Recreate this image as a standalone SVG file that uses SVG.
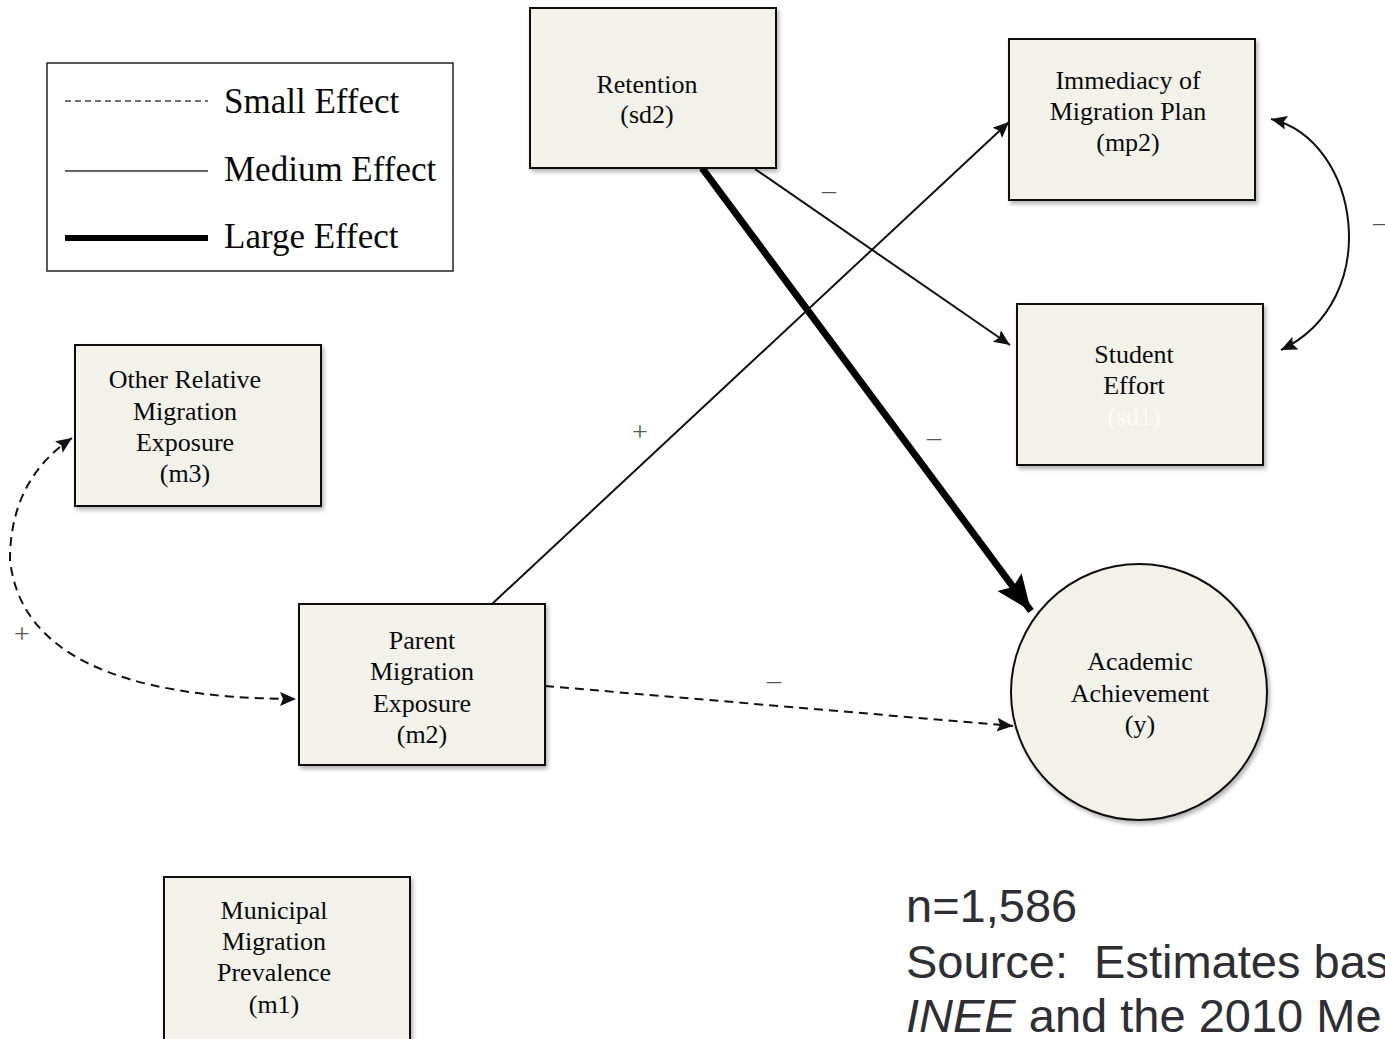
<svg xmlns="http://www.w3.org/2000/svg" width="1385" height="1039" viewBox="0 0 1385 1039">
<style>
.box{fill:#f2f1ea;stroke:#111;stroke-width:2;filter:url(#sh)}
.nt{font-family:"Liberation Serif",serif;font-size:26px;fill:#0a0a0a;text-anchor:middle}
.lg{font-family:"Liberation Serif",serif;font-size:35px;fill:#0a0a0a}
.lab{font-family:"Liberation Serif",serif;font-size:28px;fill:#555;text-anchor:middle}
.ft{font-family:"Liberation Sans",Arial,sans-serif;font-size:47px;fill:#2e2e33}
.c{fill:none;stroke:#111;stroke-width:2}
.d{fill:none;stroke:#111;stroke-width:2;stroke-dasharray:9 6}
</style>
<defs>
<filter id="sh" x="-10%" y="-10%" width="130%" height="130%">
<feDropShadow dx="2" dy="3" stdDeviation="2" flood-color="#000" flood-opacity="0.3"/>
</filter>
<marker id="a" markerUnits="userSpaceOnUse" markerWidth="20" markerHeight="16" refX="16" refY="7" orient="auto-start-reverse">
<path d="M0,0 L16,7 L0,14 L3,7 Z" fill="#111"/>
</marker>
<marker id="big" markerUnits="userSpaceOnUse" markerWidth="40" markerHeight="34" refX="36" refY="15" orient="auto">
<path d="M0,0 L36,15 L0,30 L6,15 Z" fill="#000"/>
</marker>
</defs>

<g id="legend">
<rect x="47" y="63" width="406" height="208" fill="#fff" stroke="#222" stroke-width="1.5"/>
<line x1="65" y1="101" x2="208" y2="101" stroke="#444" stroke-width="1.5" stroke-dasharray="6 4"/>
<line x1="65" y1="171" x2="208" y2="171" stroke="#333" stroke-width="1.5"/>
<line x1="65" y1="238" x2="208" y2="238" stroke="#000" stroke-width="6"/>
<text class="lg" x="224" y="113">Small Effect</text>
<text class="lg" x="224" y="181">Medium Effect</text>
<text class="lg" x="224" y="248">Large Effect</text>
</g>

<g id="connectors">
<line x1="702" y1="168" x2="1031" y2="611" stroke="#000" stroke-width="7" marker-end="url(#big)"/>
<line class="c" x1="755" y1="169" x2="1010" y2="345" marker-end="url(#a)"/>
<line class="c" x1="492" y1="604" x2="1009" y2="122" marker-end="url(#a)"/>
<line class="d" x1="545" y1="686" x2="1013" y2="726" marker-end="url(#a)"/>
<path class="d" d="M72,438 Q10,480 10,560 Q25,698 296,699" marker-start="url(#a)" marker-end="url(#a)"/>
<path class="c" d="M1271,119 C1360,140 1385,300 1281,350" marker-start="url(#a)" marker-end="url(#a)"/>
<text class="lab" x="829" y="199">–</text>
<text class="lab" x="640" y="441">+</text>
<text class="lab" x="934" y="446">–</text>
<text class="lab" x="774" y="689">–</text>
<text class="lab" x="22" y="643">+</text>
<text class="lab" x="1380" y="231">–</text>
</g>

<g id="retention">
<rect class="box" x="530" y="8" width="246" height="160"/>
<text class="nt" x="647" y="93">Retention</text>
<text class="nt" x="647" y="123">(sd2)</text>
</g>

<g id="immediacy">
<rect class="box" x="1009" y="39" width="246" height="161"/>
<text class="nt" x="1128" y="89">Immediacy of</text>
<text class="nt" x="1128" y="120">Migration Plan</text>
<text class="nt" x="1128" y="151">(mp2)</text>
</g>

<g id="effort">
<rect class="box" x="1017" y="304" width="246" height="161"/>
<text class="nt" x="1134" y="363">Student</text>
<text class="nt" x="1134" y="394">Effort</text>
<text class="nt" x="1134" y="425" style="fill:#fbfbf8">(sd1)</text>
</g>

<g id="other">
<rect class="box" x="75" y="345" width="246" height="161"/>
<text class="nt" x="185" y="388">Other Relative</text>
<text class="nt" x="185" y="420">Migration</text>
<text class="nt" x="185" y="451">Exposure</text>
<text class="nt" x="185" y="482">(m3)</text>
</g>

<g id="parent">
<rect class="box" x="299" y="604" width="246" height="161"/>
<text class="nt" x="422" y="649">Parent</text>
<text class="nt" x="422" y="680">Migration</text>
<text class="nt" x="422" y="712">Exposure</text>
<text class="nt" x="422" y="743">(m2)</text>
</g>

<g id="municipal">
<rect class="box" x="164" y="877" width="246" height="175"/>
<text class="nt" x="274" y="919">Municipal</text>
<text class="nt" x="274" y="950">Migration</text>
<text class="nt" x="274" y="981">Prevalence</text>
<text class="nt" x="274" y="1013">(m1)</text>
</g>

<g id="academic">
<circle class="box" cx="1139" cy="692" r="128"/>
<text class="nt" x="1140" y="670">Academic</text>
<text class="nt" x="1140" y="702">Achievement</text>
<text class="nt" x="1140" y="733">(y)</text>
</g>

<g id="footer">
<text class="ft" x="906" y="922">n=1,586</text>
<text class="ft" x="906" y="978" xml:space="preserve">Source:  Estimates bas</text>
<text class="ft" x="906" y="1032"><tspan font-style="italic">INEE</tspan> and the 2010 Me</text>
</g>
</svg>
